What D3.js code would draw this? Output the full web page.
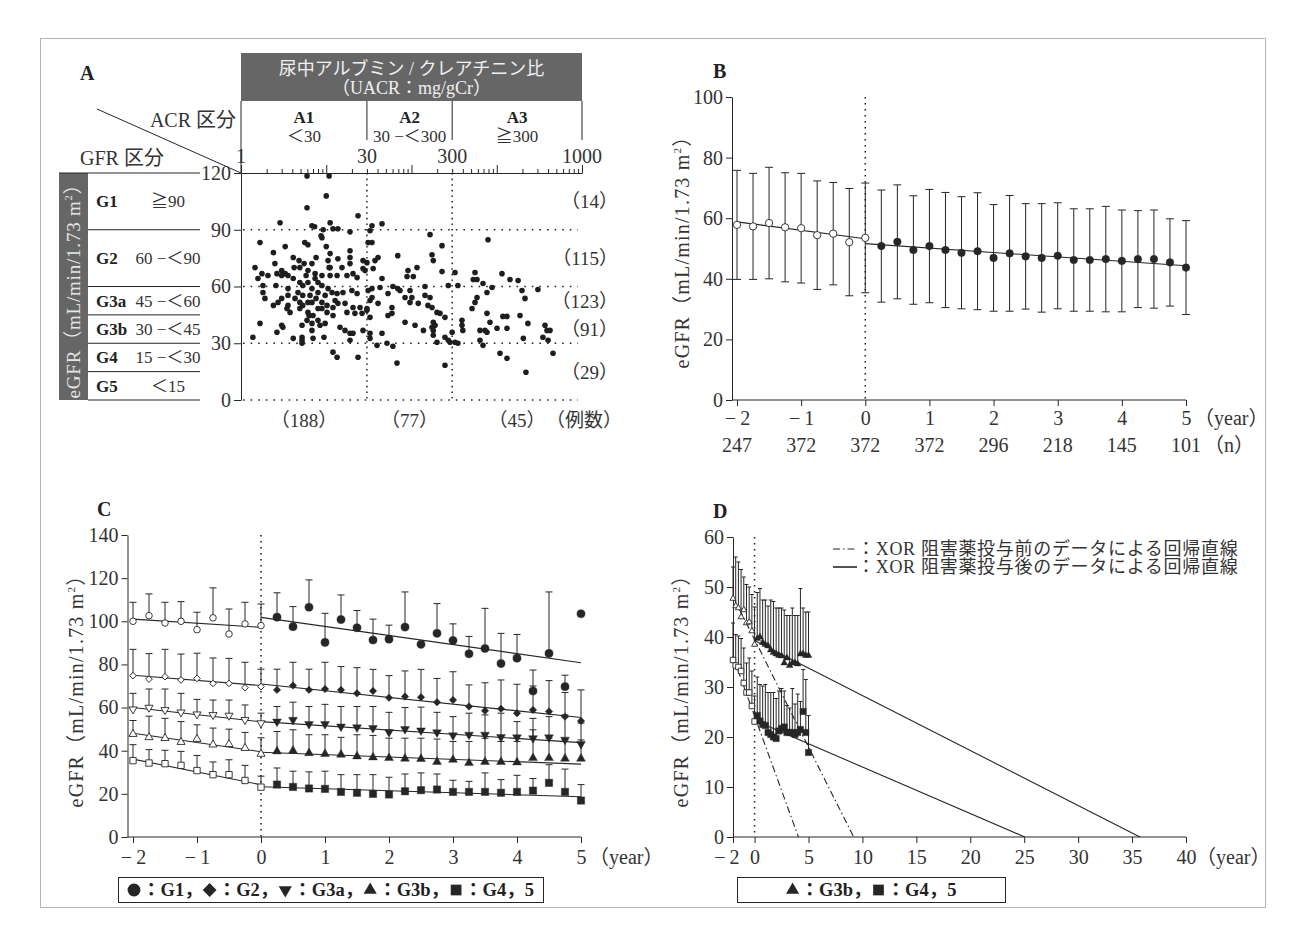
<!DOCTYPE html>
<html>
<head>
<meta charset="utf-8">
<script src="https://cdn.jsdelivr.net/npm/d3@7"></script>
<style>
  body { margin: 0; background: #fff; }
  svg { display: block; }
</style>
</head>
<body>
<script>
// ---------- data ----------
// A : UACR (mg/gCr) and eGFR of each patient
const scatterA = [
  [5.95,118.4],[10.8,118.4],[10,107.9],[5.95,101.6],[2.87,93.7],[6.8,92.1],[7.3,91.6],[9.2,90],[8.7,86.8],[8.9,85.8],
  [1.67,83.2],[5.6,83.2],[6.1,82.1],[3.3,81.1],[10,81.1],[2.4,77.9],[4.1,75.3],[7.6,75.3],[4.8,73.7],[10.5,73.7],
  [2.5,72.1],[5.5,72.1],[6.8,72.1],[1.46,70],[4.2,70],[4.9,70],[10.8,70],[3.0,68.4],[6.1,68.4],[1.76,66.8],
  [2.64,66.8],[3.3,66.8],[7.4,66.8],[2.07,65.8],[3.0,65.8],[3.56,65.8],[5.8,65.8],[8.9,65.8],[1.58,64.2],[4.1,64.2],
  [7.4,64.2],[4.9,62.1],[6.1,62.1],[8.0,62.1],[1.81,60.5],[2.57,60.5],[5.3,60.5],[8.9,60.5],[3.56,58.9],[6.8,58.9],
  [10.5,58.9],[1.81,56.8],[4.66,56.8],[8.0,56.8],[3.56,55.3],[5.3,55.3],[6.45,55.3],[9.7,55.3],[1.91,53.7],[3.0,53.7],
  [4.3,53.7],[7.6,53.7],[2.72,51.6],[4.9,51.6],[6.1,51.6],[6.8,51.6],[8.9,51.6],[2.4,50],[3.56,50],[5.3,50],
  [10.2,50],[3.46,48.4],[4.9,48.4],[8.0,48.4],[8.9,48.4],[3.76,46.3],[6.1,46.3],[10.2,46.3],[6.3,44.7],[7.0,44.7],
  [5.95,42.1],[8.0,42.1],[1.67,40.5],[6.8,40.5],[9.7,40.5],[3.0,39.5],[5.2,39.5],[8.45,39.5],[3.1,38.4],[6.8,36.8],
  [2.64,35.8],[1.38,33.2],[5.2,33.2],[9.4,33.2],[4.1,32.6],[7.0,32.6],[5.2,31.6],[5.2,30],
  [11.1,93.7],[13.7,90.5],[12.0,90.5],[23.6,97.4],[34.4,92.1],[32.6,89.5],[45.1,93.2],[19.0,88.9],[31,83.2],[34.4,83.2],
  [165,87.4],[228,81.6],[790,84.7],[69,76.3],[11.1,77.4],[13.7,74.7],[19.0,78.9],[19.0,75.3],[27,73.7],[30,72.6],
  [37.3,73.7],[40.5,75.3],[19.0,72.1],[15.3,70],[11.1,70],[174,76.8],[180,73.7],[1152,66.8],[1430,63.7],[1780,63.2],
  [3040,58.4],[556,67.4],[530,63.7],[587,63.7],[91,68.4],[116,70],[88.6,65.3],[105,65.3],[228,67.9],[324,67.4],
  [27,69.5],[28.5,68.4],[35.5,69.5],[11.1,65.8],[13.4,65.8],[17.5,65.8],[20.6,66.8],[23,64.7],[45.1,64.2],[60.5,60],
  [69,58.9],[73.3,57.9],[144,60],[96,57.9],[270,60.5],[350,60.5],[690,61.6],[880,59.5],[768,56.8],[1977,57.9],
  [2145,53.7],[34.4,58.9],[42.7,59.5],[11.7,56.8],[13.4,56.3],[15.7,56.8],[20,57.9],[23,56.3],[31,57.9],[34.4,54.2],
  [32.6,52.6],[53,56.3],[84,54.2],[101,54.2],[96,51.6],[120,51.1],[144,55.3],[165,54.2],[156,50],[174,48.9],
  [587,54.2],[556,51.6],[513,48.4],[12.7,52.6],[13.7,51.1],[16.6,51.1],[12,48.9],[20.6,48.9],[24.9,48.9],[30,48.4],
  [40.5,51.1],[59,48.9],[199,46.3],[216,45.8],[247,43.7],[768,45.8],[1180,44.2],[1319,44.2],[1874,44.7],[12,44.7],
  [17.5,46.3],[21.7,45.8],[26.3,45.8],[30,47.4],[32.6,43.7],[53,44.7],[59,45.8],[84,41.1],[110,39.5],[138,36.8],
  [180,41.1],[189,39.5],[174,38.4],[180,36.8],[180,34.2],[199,30.5],[247,33.2],[270,31.6],[283,30.5],[300,35.8],
  [324,30.5],[350,30],[391,42.1],[391,39.5],[400,36.8],[636,36.8],[728,36.8],[768,35.8],[833,41.1],[1007,37.9],
  [1319,37.9],[2320,40.5],[2050,32.6],[3681,39.5],[3885,36.8],[3480,33.2],[4000,31.6],[4213,36.8],[636,31.6],[690,28.9],
  [14.5,38.4],[16.6,36.8],[19,35.3],[20.6,35.3],[19,31.6],[27,36.8],[32.6,35.3],[32.6,32.6],[39.4,28.9],[45.1,35.3],
  [51.6,30],[60.5,28.4],[12,25.3],[13.4,22.6],[23.6,22.6],[67.6,19.5],[247,18.4],[1092,24.7],[1319,22.1],[2200,14.7],
  [4570,24.7]
];
const acrCats = [
  { name: 'A1', range: '＜30', lo: 1, hi: 30 },
  { name: 'A2', range: '30 −＜300', lo: 30, hi: 300 },
  { name: 'A3', range: '≧300', lo: 300, hi: 10000 }
];
const gfrCats = [
  { name: 'G1', range: '≧90', lo: 90, hi: 120 },
  { name: 'G2', range: '60 −＜90', lo: 60, hi: 90 },
  { name: 'G3a', range: '45 −＜60', lo: 45, hi: 60 },
  { name: 'G3b', range: '30 −＜45', lo: 30, hi: 45 },
  { name: 'G4', range: '15 −＜30', lo: 15, hi: 30 },
  { name: 'G5', range: '＜15', lo: 0, hi: 15 }
];
const acrCounts = [188, 77, 45];
const gfrCountBands = [[90, 120], [60, 90], [45, 60], [30, 45], [0, 30]];
const gfrCounts = [14, 115, 123, 91, 29];
const acrAxisVals = [1, 30, 300, 10000];
const acrAxisLabels = ['1', '30', '300', '1000'];
const gfrAxisVals = [0, 30, 60, 90, 120];

// B, C, D : every 3 months from 2 years before to 5 years after the start
const years = [-2,-1.75,-1.5,-1.25,-1,-0.75,-0.5,-0.25,0,0.25,0.5,0.75,1,1.25,1.5,1.75,2,2.25,2.5,2.75,3,3.25,3.5,3.75,4,4.25,4.5,4.75,5];

// B : all patients, mean and SD
const bMean = [57.8,57.3,58.4,57.0,56.7,54.4,54.9,52.1,53.5, 50.8,52.2,49.5,50.8,49.5,48.6,49.1,46.9,48.4,47.4,46.9,47.6,46.2,46.2,46.5,45.9,46.5,46.5,45.4,43.7];
const bSD = [18.0,17.5,18.4,18.0,18.1,17.9,16.9,17.7,18.1, 18.5,18.8,17.9,18.7,19.0,18.5,19.3,17.6,19.1,17.4,17.9,17.5,16.9,16.9,17.4,16.8,16.0,16.2,14.4,15.5];
const bN = [247, 372, 372, 372, 296, 218, 145, 101];
const bFit = [[53.2, -2.8], [51.6, -1.46]];   // [intercept at 0, slope] before / after

// C : by GFR stage, mean and SD (upper bar only)
const g1Mean = [100,102.6,99.2,100,96.1,101.6,94.1,98.8,98, 101.9,97.5,106.5,90.2,100.8,97,91.3,91.7,97.3,89.3,94.4,91.1,84.9,87.4,80.4,82.9,67.7,85.1,69.7,103.5];
const g1SD = [8.8,10.1,9.6,9.1,8.1,13.9,11.6,10,10, 11.3,9.3,12.7,13.5,11.4,8,9.7,6.5,16.3,0,13.8,7.7,8.1,18.6,14,11,9.7,28.5,5.3,0];
const g2Mean = [74.8,73.2,74.3,72.8,73.5,71.2,71.2,69.2,69.7, 68.2,70.2,68.2,68.6,68.2,66.6,67.7,64.6,65.1,64.8,62.5,63.5,60.5,58.5,59.4,57.4,58.9,58.2,55.8,53.8];
const g2SD = [12.2,11.8,12.7,12,11.7,11.8,11.6,11.8,8.1, 9.6,10.8,9.6,12.4,10.8,11.9,10,10.2,11.9,12.9,11,13.1,10,13,13.4,13.4,11.1,14.3,11.2,14.4];
const g3aMean = [59.2,60,58.9,57.8,56.9,56.6,56.3,54.3,52.8, 53.5,54.3,52.3,52.3,51.2,50.8,50.5,48.6,50,49.4,48.5,47.1,47.4,47.4,46.3,46.2,45.8,46.2,45.1,43.1];
const g3aSD = [7.4,8.6,9.7,8.8,6.9,6.9,7.2,6.9,4.6, 7,8.2,8.2,9.2,9.3,9.7,10,9.2,10,10.8,9.3,8.7,10,9.2,11.1,7.3,9.2,9.6,11.5,9.7];
const g3bMean = [47.7,46.2,45.8,44,45.4,42.8,43,41.2,38.5, 39.7,40,38.9,38.5,38.2,37.4,36.9,36.6,36.3,36.2,34.8,35.8,34.3,34.8,34.8,34.6,36.6,36.6,36.3,36.3];
const g3bSD = [6.3,9.8,9.2,9.5,6.6,7.7,7,7.3,7.5, 9.2,9.7,8.5,8.9,8,10,10.2,9.2,9.5,9.6,10.6,8.5,10,11,9.5,9.7,13.1,9.2,8.7,8.7];
const g45Mean = [35.4,34.3,34,33.2,30.8,28.9,28.9,26.2,23.1, 24.3,23.2,22.5,22.3,20.9,20.5,20,19.7,21.2,21.7,22,20.9,20.9,20.9,20.5,20.9,21.5,25.1,20.9,16.9];
const g45SD = [7.4,6.2,6.2,6.5,7,5.9,6.9,7,5.1, 7.7,7.3,7.7,8.2,8,8.4,8.9,8,8,8,7.2,5.4,4.9,8.8,6.1,7.7,5.6,8.4,10.6,7.4];
const g1Fit = [[97.2, -1.9], [101.8, -4.2]];
const g2Fit = [[70.2, -2.4], [70.9, -3.1]];
const g3aFit = [[53.4, -3.3], [53.5, -1.95]];
const g3bFit = [[39.5, -4.3], [39.3, -1.1]];
const g45Fit = [[24.2, -5.95], [23.3, -0.93]];

const cTicksX = [-2, -1, 0, 1, 2, 3, 4, 5];
const dTicksX = [-2, 0, 5, 10, 15, 20, 25, 30, 35, 40];

// ---------- drawing ----------
const ink = '#262626';
const txtCol = '#333';
const serif = '"Liberation Serif","Noto Sans CJK JP",serif';
const fmt = d => (d < 0 ? '−\u2009' + (-d) : String(d));

const svg = d3.select('body').append('svg')
  .attr('width', 1306).attr('height', 948)
  .attr('font-family', serif);

svg.append('rect').attr('width', 1306).attr('height', 948).attr('fill', '#fff');
svg.append('rect')
  .attr('x', 40.5).attr('y', 38.5).attr('width', 1225).attr('height', 869)
  .attr('fill', 'none').attr('stroke', '#b5b5b5');

function label(g, x, y, s, o) {
  o = o || {};
  return g.append('text')
    .attr('x', x).attr('y', y)
    .attr('text-anchor', o.anchor || 'start')
    .attr('font-size', o.size || 20)
    .attr('font-weight', o.bold ? 'bold' : null)
    .attr('letter-spacing', o.ls || null)
    .attr('fill', o.fill || txtCol)
    .text(s);
}

function line(g, x1, y1, x2, y2, dash, w) {
  return g.append('line')
    .attr('x1', x1).attr('y1', y1).attr('x2', x2).attr('y2', y2)
    .attr('stroke', ink).attr('stroke-width', w || 1)
    .attr('stroke-dasharray', dash || null);
}

function styleAxis(sel) {
  sel.attr('font-family', serif).attr('font-size', 20);
  sel.selectAll('.domain').attr('stroke', ink);
  sel.selectAll('.tick line').attr('stroke', ink);
  sel.selectAll('.tick text').attr('fill', txtCol);
  return sel;
}

function yTitle(g, cx, cy, size, fill, ls) {
  const t = g.append('text')
    .attr('transform', 'translate(' + cx + ',' + cy + ') rotate(-90)')
    .attr('text-anchor', 'middle')
    .attr('font-size', size)
    .attr('letter-spacing', ls)
    .attr('fill', fill || txtCol);
  t.append('tspan').text('eGFR（mL/min/1.73 m');
  t.append('tspan').attr('dy', -size * 0.4).attr('font-size', size * 0.55).text('2');
  t.append('tspan').attr('dy', size * 0.4).text('）');
}

const dotDash = '1.5,4.5';

// ===== A =====
const gA = svg.append('g');
const ax = d3.scaleLog().domain([1, 10000]).range([241, 582]);
const ay = d3.scaleLinear().domain([0, 120]).range([400, 173]);

label(gA, 80, 80, 'A', { bold: true, size: 20, fill: '#222' });

// header box
gA.append('rect').attr('x', ax(1)).attr('y', 53).attr('width', ax(10000) - ax(1)).attr('height', 48).attr('fill', '#666');
label(gA, (ax(1) + ax(10000)) / 2, 75, '尿中アルブミン / クレアチニン比', { anchor: 'middle', size: 18, fill: '#f0f0f0' });
label(gA, (ax(1) + ax(10000)) / 2, 94, '（UACR：mg/gCr）', { anchor: 'middle', size: 18, fill: '#f0f0f0' });

acrAxisVals.forEach(v => line(gA, ax(v), 101, ax(v), v === 1 ? 173 : 140));
acrCats.forEach(c => {
  const mx = (ax(c.lo) + ax(c.hi)) / 2;
  label(gA, mx, 123, c.name, { anchor: 'middle', size: 17, bold: true, fill: '#222' });
  label(gA, mx, 142, c.range, { anchor: 'middle', size: 17 });
});

// diagonal corner
line(gA, 97, 109, ax(1), ay(120));
label(gA, 236, 127, 'ACR 区分', { anchor: 'end', size: 20 });
label(gA, 80, 165, 'GFR 区分', { size: 20 });

// top log axis
const topAxis = gA.append('g').attr('transform', 'translate(0,' + ay(120) + ')')
  .call(d3.axisTop(ax).tickValues(ax.ticks()).tickFormat('').tickSize(4).tickSizeOuter(0));
styleAxis(topAxis);
topAxis.selectAll('.tick line').attr('y2', d => (Math.abs(Math.log10(d) - Math.round(Math.log10(d))) < 1e-9 ? -8 : -4));
acrAxisVals.forEach((v, i) => label(gA, ax(v), 163, acrAxisLabels[i], { anchor: 'middle', size: 20 }));

// left axis
const aY = gA.append('g').attr('transform', 'translate(' + ax(1) + ',0)')
  .call(d3.axisLeft(ay).tickValues(gfrAxisVals).tickSize(7).tickPadding(3).tickSizeOuter(0));
styleAxis(aY);

// dotted guides
[0, 30, 60, 90].forEach(v => line(gA, ax(1) + 2, ay(v), 578, ay(v), '1.6,6', 1.5));
[30, 300].forEach(v => line(gA, ax(v), ay(120), ax(v), ay(0), '1.6,4', 1.5));

// GFR table
gA.append('rect').attr('x', 59).attr('y', ay(120)).attr('width', 29).attr('height', ay(0) - ay(120)).attr('fill', '#666');
yTitle(gA, 80, (ay(0) + ay(120)) / 2, 19, '#e6e6e6', 0.8);
line(gA, 59, ay(120), 200, ay(120));
gfrCats.forEach(c => {
  line(gA, 88, ay(c.lo), 200, ay(c.lo));
  const my = (ay(c.lo) + ay(c.hi)) / 2 + 6;
  label(gA, 96, my, c.name, { size: 17, bold: true, fill: '#222' });
  label(gA, 168, my, c.range, { anchor: 'middle', size: 17 });
});

// scatter
gA.append('g').selectAll('circle').data(scatterA).join('circle')
  .attr('cx', d => ax(d[0])).attr('cy', d => ay(d[1])).attr('r', 2.8).attr('fill', '#1e1e1e');

// counts
gfrCountBands.forEach((b, i) => label(gA, 618, ay((b[0] + b[1]) / 2) + 7, '（' + gfrCounts[i] + '）', { anchor: 'end', size: 19 }));
acrCats.forEach((c, i) => label(gA, (ax(c.lo) + ax(c.hi)) / 2, 427, '（' + acrCounts[i] + '）', { anchor: 'middle', size: 19 }));
label(gA, 622, 427, '（例数）', { anchor: 'end', size: 19 });

// ===== common pieces for B/C/D =====
const shapes = {
  circle: { type: d3.symbolCircle, rot: 0 },
  diamond: { type: d3.symbolSquare, rot: 45 },
  down: { type: d3.symbolTriangle, rot: 180 },
  up: { type: d3.symbolTriangle, rot: 0 },
  square: { type: d3.symbolSquare, rot: 0 }
};

function markers(g, x, y, mean, shape, sizeOpen, sizeFill) {
  const sh = shapes[shape];
  g.append('g').selectAll('path').data(years).join('path')
    .attr('d', d => d3.symbol(sh.type, d <= 0 ? sizeOpen : sizeFill)())
    .attr('transform', (d, i) => 'translate(' + x(d) + ',' + y(mean[i]) + ') rotate(' + sh.rot + ')')
    .attr('fill', d => (d <= 0 ? '#fff' : ink))
    .attr('stroke', ink)
    .attr('stroke-width', d => (d <= 0 ? 0.9 : 0.4));
}

function bars(g, x, y, mean, sd, cap, both) {
  const gb = g.append('g').attr('stroke', ink).attr('stroke-width', 1);
  years.forEach((d, i) => {
    if (!sd[i]) return;
    const yt = y(mean[i] + sd[i]);
    const yb = both ? y(mean[i] - sd[i]) : y(mean[i]);
    gb.append('line').attr('x1', x(d)).attr('x2', x(d)).attr('y1', yt).attr('y2', yb);
    gb.append('line').attr('x1', x(d) - cap).attr('x2', x(d) + cap).attr('y1', yt).attr('y2', yt);
    if (both) gb.append('line').attr('x1', x(d) - cap).attr('x2', x(d) + cap).attr('y1', yb).attr('y2', yb);
  });
}

function fitLine(g, x, y, f, x0, x1, dash) {
  g.append('line')
    .attr('x1', x(x0)).attr('y1', y(f[0] + f[1] * x0))
    .attr('x2', x(x1)).attr('y2', y(f[0] + f[1] * x1))
    .attr('stroke', ink).attr('stroke-width', 1.1)
    .attr('stroke-dasharray', dash || null);
}

// legend row of symbols + bold labels, centred in a box
function symLegend(g, items, x0, x1, y, size) {
  g.append('rect').attr('x', x0 + 0.5).attr('y', y - 18.5).attr('width', x1 - x0).attr('height', 25)
    .attr('fill', 'none').attr('stroke', ink);
  const row = g.append('g');
  let x = 0;
  items.forEach(it => {
    const sh = shapes[it.shape];
    row.append('path').attr('d', d3.symbol(sh.type, it.area)())
      .attr('transform', 'translate(' + (x + 7) + ',' + (y - 6) + ') rotate(' + sh.rot + ')')
      .attr('fill', ink);
    x += 15;
    const t = label(row, x, y, it.text, { size: size, bold: true, fill: '#222' });
    x += t.node().getComputedTextLength();
  });
  row.attr('transform', 'translate(' + ((x0 + x1) / 2 - x / 2) + ',0)');
}

// ===== B =====
const gB = svg.append('g');
const bx = d3.scaleLinear().domain([-2, 5]).range([737, 1186]);
const by = d3.scaleLinear().domain([0, 100]).range([400, 97]);
label(gB, 713, 78, 'B', { bold: true, size: 20, fill: '#222' });

styleAxis(gB.append('g').attr('transform', 'translate(732,0)')
  .call(d3.axisLeft(by).tickValues(d3.range(0, 101, 20)).tickSize(6).tickPadding(3).tickSizeOuter(0)));
const bAx = gB.append('g').attr('transform', 'translate(0,400)')
  .call(d3.axisBottom(bx).tickValues(cTicksX).tickFormat(fmt).tickSize(6).tickPadding(5));
styleAxis(bAx);
bAx.select('.domain').remove();
line(gB, 732, 400, bx(5), 400);
label(gB, bx(5) + 8, 425, '（year）', { size: 20 });
cTicksX.forEach((t, i) => label(gB, bx(t), 452, String(bN[i]), { anchor: 'middle', size: 20 }));
label(gB, bx(5) + 18, 452, '（n）', { size: 20 });
yTitle(gB, 689, 247, 20, null, 1.2);

line(gB, bx(0), by(100), bx(0), by(0), dotDash, 1.6);
bars(gB, bx, by, bMean, bSD, 4, true);
fitLine(gB, bx, by, bFit[0], -2, 0);
fitLine(gB, bx, by, bFit[1], 0, 5);
markers(gB, bx, by, bMean, 'circle', 42, 46);

// ===== C =====
const gC = svg.append('g');
const cx = d3.scaleLinear().domain([-2, 5]).range([133, 581]);
const cy = d3.scaleLinear().domain([0, 140]).range([837, 535]);
label(gC, 97, 516, 'C', { bold: true, size: 20, fill: '#222' });

styleAxis(gC.append('g').attr('transform', 'translate(127.5,0)')
  .call(d3.axisLeft(cy).tickValues(d3.range(0, 141, 20)).tickSize(6).tickPadding(3).tickSizeOuter(0)));
const cAx = gC.append('g').attr('transform', 'translate(0,837)')
  .call(d3.axisBottom(cx).tickValues(cTicksX).tickFormat(fmt).tickSize(6).tickPadding(7));
styleAxis(cAx);
cAx.select('.domain').remove();
line(gC, 127.5, 837, cx(5), 837);
label(gC, cx(5) + 8, 864, '（year）', { size: 20 });
yTitle(gC, 83, 686, 20, null, 1.2);
line(gC, cx(0), cy(140), cx(0), cy(0), dotDash, 1.6);

const cSeries = [
  { mean: g1Mean, sd: g1SD, fit: g1Fit, shape: 'circle', so: 34, sf: 52 },
  { mean: g2Mean, sd: g2SD, fit: g2Fit, shape: 'diamond', so: 22, sf: 28 },
  { mean: g3aMean, sd: g3aSD, fit: g3aFit, shape: 'down', so: 28, sf: 34 },
  { mean: g3bMean, sd: g3bSD, fit: g3bFit, shape: 'up', so: 28, sf: 34 },
  { mean: g45Mean, sd: g45SD, fit: g45Fit, shape: 'square', so: 40, sf: 54 }
];
cSeries.forEach(s => bars(gC, cx, cy, s.mean, s.sd, 3.5, false));
cSeries.forEach(s => {
  fitLine(gC, cx, cy, s.fit[0], -2, 0);
  fitLine(gC, cx, cy, s.fit[1], 0, 5);
});
cSeries.forEach(s => markers(gC, cx, cy, s.mean, s.shape, s.so, s.sf));

symLegend(gC, [
  { shape: 'circle', area: 130, text: '：G1，' },
  { shape: 'diamond', area: 95, text: '：G2，' },
  { shape: 'down', area: 75, text: '：G3a，' },
  { shape: 'up', area: 75, text: '：G3b，' },
  { shape: 'square', area: 115, text: '：G4，5' }
], 118, 543, 896, 18.5);

// ===== D =====
const gD = svg.append('g');
const dx = d3.scaleLinear().domain([-2, 40]).range([733, 1186]);
const dy = d3.scaleLinear().domain([0, 60]).range([837, 537]);
label(gD, 713, 518, 'D', { bold: true, size: 20, fill: '#222' });

styleAxis(gD.append('g').attr('transform', 'translate(733,0)')
  .call(d3.axisLeft(dy).tickValues(d3.range(0, 61, 10)).tickSize(6).tickPadding(3).tickSizeOuter(0)));
const dAx = gD.append('g').attr('transform', 'translate(0,837)')
  .call(d3.axisBottom(dx).tickValues(dTicksX).tickFormat(fmt).tickSize(6).tickPadding(7));
styleAxis(dAx);
dAx.select('.domain').remove();
// the −2 label sits just left of its tick so that it does not run into 0
dAx.selectAll('.tick text').filter(d => d < 0).attr('text-anchor', 'end').attr('x', 6);
line(gD, 733, 837, dx(40), 837);
label(gD, dx(40) + 10, 864, '（year）', { size: 20 });
yTitle(gD, 688, 686, 20, null, 1.2);
line(gD, dx(0), dy(60), dx(0), dy(0), dotDash, 1.6);

const dSeries = [
  { mean: g3bMean, sd: g3bSD, fit: g3bFit, shape: 'up', so: 16, sf: 20 },
  { mean: g45Mean, sd: g45SD, fit: g45Fit, shape: 'square', so: 30, sf: 40 }
];
dSeries.forEach(s => bars(gD, dx, dy, s.mean, s.sd, 2, false));
dSeries.forEach(s => {
  fitLine(gD, dx, dy, s.fit[0], -2, -s.fit[0][0] / s.fit[0][1], '7,3,1.5,3');
  fitLine(gD, dx, dy, s.fit[1], 0, -s.fit[1][0] / s.fit[1][1]);
});
dSeries.forEach(s => markers(gD, dx, dy, s.mean, s.shape, s.so, s.sf));

// regression legend
line(gD, 833, 549, 857, 549, '7,3,1.5,3', 1.2);
label(gD, 857, 555, '：XOR 阻害薬投与前のデータによる回帰直線', { size: 18, ls: 0.7 });
line(gD, 833, 567, 857, 567, null, 1.6);
label(gD, 857, 573, '：XOR 阻害薬投与後のデータによる回帰直線', { size: 18, ls: 0.7 });

symLegend(gD, [
  { shape: 'up', area: 75, text: '：G3b，' },
  { shape: 'square', area: 115, text: '：G4，5' }
], 737, 1005, 896, 18.5);
</script>
</body>
</html>
